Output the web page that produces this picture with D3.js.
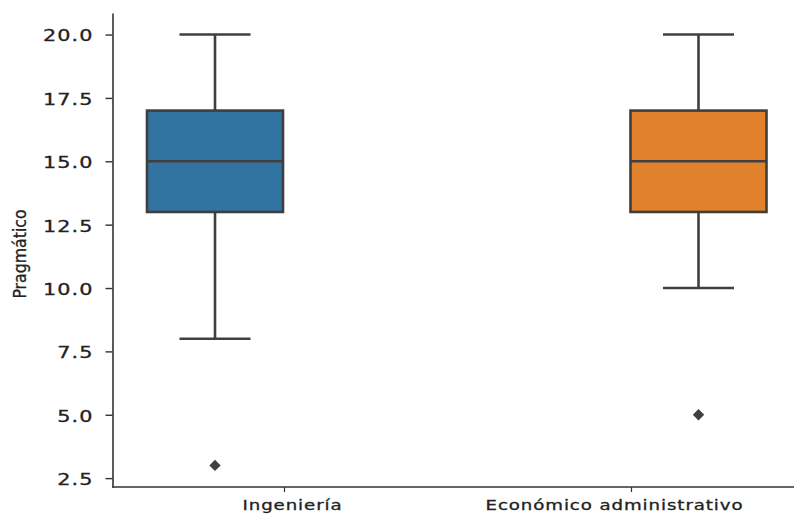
<!DOCTYPE html>
<html>
<head>
<meta charset="utf-8">
<script src="https://cdn.jsdelivr.net/npm/d3@7"></script>
<style>
  body { margin: 0; background: #fff; }
  svg { display: block; }
</style>
</head>
<body>
<div id="chart"></div>
<script>
// data
const categories = ['Ingeniería', 'Económico administrativo'];
const q1 = [13, 13];
const medians = [15, 15];
const q3 = [17, 17];
const whiskerLow = [8, 10];
const whiskerHigh = [20, 20];
const outliers = [[3], [5]];
const colors = ['#3274a1', '#e1812c'];
const yTicks = [2.5, 5.0, 7.5, 10.0, 12.5, 15.0, 17.5, 20.0];

const W = 794, H = 516;
const lineColor = '#3f3f3f';

const svg = d3.select('#chart').append('svg')
  .attr('width', W)
  .attr('height', H);

const y = d3.scaleLinear().domain([2.15, 20.85]).range([487, 13]);

// boxes and ticks sit at different x in the picture
const xBox = d3.scalePoint().domain(categories).range([215, 698.5]);
const xAxis = d3.scalePoint().domain(categories).range([284, 631]);
const xLabel = d3.scalePoint().domain(categories).range([292, 614]);

const boxW = 136;
const capW = 71;

const data = categories.map((c, i) => ({
  cat: c, q1: q1[i], med: medians[i], q3: q3[i],
  lo: whiskerLow[i], hi: whiskerHigh[i], out: outliers[i], color: colors[i]
}));

// axes
const yAx = svg.append('g')
  .attr('transform', 'translate(112.5,0)')
  .call(d3.axisLeft(y).tickValues(yTicks).tickFormat(d3.format('.1f')).tickSize(7).tickSizeOuter(0))
yAx.select('.domain').attr('stroke', '#333').attr('stroke-width', 1.6);
yAx.selectAll('.tick line').attr('stroke', '#333').attr('stroke-width', 1.4);
// the picture's labels are stretched sideways
yAx.selectAll('.tick text')
  .attr('x', 0)
  .attr('dy', '0.4em')
  .attr('transform', 'translate(-19,0) scale(1.3,1)')
  .style('font-family', 'DejaVu Sans, sans-serif')
  .style('font-size', '16px')
  .style('letter-spacing', '0.8px')
  .attr('fill', '#222')
  .attr('stroke', '#222').attr('stroke-width', 0.3);

const xAx = svg.append('g')
  .attr('transform', 'translate(0,487)')
  .call(d3.axisBottom(xAxis).tickSize(5).tickSizeOuter(0));
xAx.select('.domain').attr('d', 'M112,0H800').attr('stroke', '#333').attr('stroke-width', 1.6);
xAx.selectAll('.tick line').attr('stroke', '#333').attr('stroke-width', 1.2);
xAx.selectAll('.tick text')
  .attr('x', 0)
  .attr('y', 0)
  .attr('dy', '0.71em')
  .attr('transform', d => `translate(${xLabel(d) - xAxis(d)},13.5) scale(1.3,1)`)
  .style('font-family', 'DejaVu Sans, sans-serif')
  .style('font-size', '14px')
  .style('letter-spacing', '0.7px')
  .attr('fill', '#222')
  .attr('stroke', '#222').attr('stroke-width', 0.3);

// y label
svg.append('text')
  .attr('transform', `translate(26,${(13 + 487) / 2 + 4}) rotate(-90)`)
  .attr('text-anchor', 'middle')
  .style('font-family', 'Liberation Sans Narrow, DejaVu Sans Condensed, sans-serif')
  .style('font-size', '17.5px')
  .attr('fill', '#222')
  .attr('stroke', '#222').attr('stroke-width', 0.3)
  .text('Pragmático');

const boxes = svg.append('g').selectAll('.box')
  .data(data)
  .enter().append('g').attr('class', 'box');

// whiskers
boxes.append('line')
  .attr('x1', d => xBox(d.cat)).attr('x2', d => xBox(d.cat))
  .attr('y1', d => y(d.q3)).attr('y2', d => y(d.hi))
  .attr('stroke', lineColor).attr('stroke-width', 2.6);
boxes.append('line')
  .attr('x1', d => xBox(d.cat)).attr('x2', d => xBox(d.cat))
  .attr('y1', d => y(d.q1)).attr('y2', d => y(d.lo))
  .attr('stroke', lineColor).attr('stroke-width', 2.6);

// caps
boxes.append('line')
  .attr('x1', d => xBox(d.cat) - capW / 2).attr('x2', d => xBox(d.cat) + capW / 2)
  .attr('y1', d => y(d.hi)).attr('y2', d => y(d.hi))
  .attr('stroke', lineColor).attr('stroke-width', 2.6);
boxes.append('line')
  .attr('x1', d => xBox(d.cat) - capW / 2).attr('x2', d => xBox(d.cat) + capW / 2)
  .attr('y1', d => y(d.lo)).attr('y2', d => y(d.lo))
  .attr('stroke', lineColor).attr('stroke-width', 2.6);

// box
boxes.append('rect')
  .attr('x', d => xBox(d.cat) - boxW / 2)
  .attr('width', boxW)
  .attr('y', d => y(d.q3))
  .attr('height', d => y(d.q1) - y(d.q3))
  .attr('fill', d => d.color)
  .attr('stroke', lineColor).attr('stroke-width', 2.6);

// median
boxes.append('line')
  .attr('x1', d => xBox(d.cat) - boxW / 2).attr('x2', d => xBox(d.cat) + boxW / 2)
  .attr('y1', d => y(d.med)).attr('y2', d => y(d.med))
  .attr('stroke', lineColor).attr('stroke-width', 2.6);

// outliers
boxes.selectAll('.out')
  .data(d => d.out.map(v => ({ cat: d.cat, v })))
  .enter().append('path')
  .attr('class', 'out')
  .attr('transform', d => `translate(${xBox(d.cat)},${y(d.v)}) rotate(45)`)
  .attr('d', 'M-4,-4H4V4H-4Z')
  .attr('fill', lineColor);
</script>
</body>
</html>
